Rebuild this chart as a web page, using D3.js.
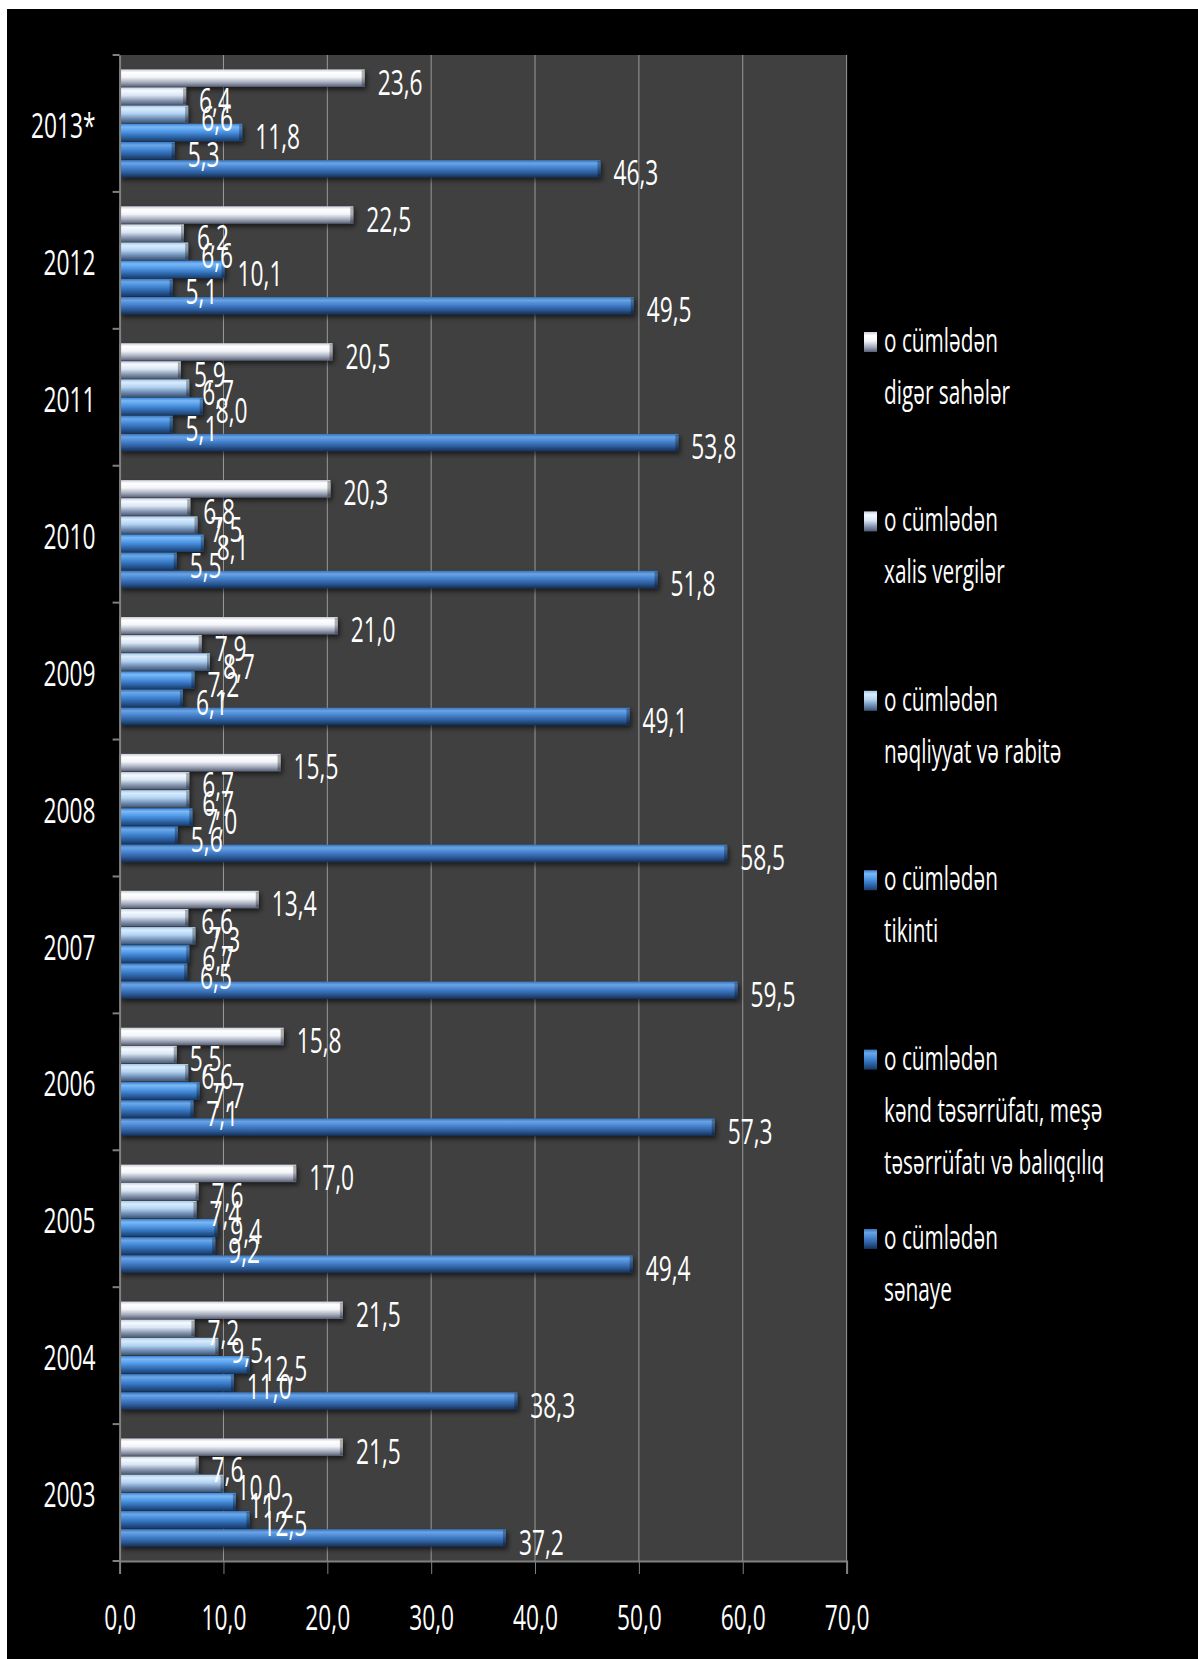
<!DOCTYPE html>
<html>
<head>
<meta charset="utf-8">
<script src="https://cdn.jsdelivr.net/npm/d3@7"></script>
<style>
  body { margin: 0; background: #fff; }
  svg { display: block; }
  text { font-family: "Open Sans", sans-serif; fill: #fff; }
</style>
</head>
<body>
<div class="chart"></div>
<script>
// data (2003 -> 2013*)
var years = ["2003", "2004", "2005", "2006", "2007", "2008", "2009", "2010", "2011", "2012", "2013*"]
var diger     = [21.5, 21.5, 17.0, 15.8, 13.4, 15.5, 21.0, 20.3, 20.5, 22.5, 23.6]
var vergiler  = [7.6, 7.2, 7.6, 5.5, 6.6, 6.7, 7.9, 6.8, 5.9, 6.2, 6.4]
var neqliyyat = [10.0, 9.5, 7.4, 6.6, 7.3, 6.7, 8.7, 7.5, 6.7, 6.6, 6.6]
var tikinti   = [11.2, 12.5, 9.4, 7.7, 6.7, 7.0, 7.2, 8.1, 8.0, 10.1, 11.8]
var kend      = [12.5, 11.0, 9.2, 7.1, 6.5, 5.6, 6.1, 5.5, 5.1, 5.1, 5.3]
var senaye    = [37.2, 38.3, 49.4, 57.3, 59.5, 58.5, 49.1, 51.8, 53.8, 49.5, 46.3]
var xTicks = [0, 10, 20, 30, 40, 50, 60, 70]

var seriesNames = [
  ["o cümlədən", "digər sahələr"],
  ["o cümlədən", "xalis vergilər"],
  ["o cümlədən", "nəqliyyat və rabitə"],
  ["o cümlədən", "tikinti"],
  ["o cümlədən", "kənd təsərrüfatı, meşə", "təsərrüfatı və balıqçılıq"],
  ["o cümlədən", "sənaye"]
]
var seriesValues = [diger, vergiler, neqliyyat, tikinti, kend, senaye]

// gradient stops per series (top -> bottom)
var grads = [
  ["#c9ced8", "#ffffff", "#f2f4f8", "#a4abbc", "#596075"],
  ["#c3d0e2", "#f5faff", "#d9e6f4", "#8796b0", "#4d5a72"],
  ["#a6c9ed", "#d8ecfc", "#b2d2f2", "#6c8ab0", "#3c5372"],
  ["#3d84d6", "#7bb9f6", "#4e96e5", "#2d66aa", "#1a3d6b"],
  ["#3879c5", "#6ba8e9", "#4186d4", "#295c9c", "#173864"],
  ["#3873ba", "#69a4e6", "#4580cc", "#2a5893", "#162e56"]
]

var W = 1198, H = 1659
var SX = 0.65
var fmt = d => d.toFixed(1).replace(".", ",")

var svg = d3.select("div.chart").append("svg").attr("width", W).attr("height", H)

svg.append("rect").attr("x", 7).attr("y", 9).attr("width", W - 7).attr("height", H - 9).attr("fill", "#000")

var defs = svg.append("defs")
grads.forEach((g, i) => {
  var lg = defs.append("linearGradient").attr("id", "g" + i)
    .attr("x1", 0).attr("y1", 0).attr("x2", 0).attr("y2", 1)
  var offs = [0, 0.18, 0.45, 0.75, 1]
  g.forEach((c, j) => lg.append("stop").attr("offset", offs[j]).attr("stop-color", c))
})
var f = defs.append("filter").attr("id", "sh").attr("x", "-5%").attr("y", "-30%").attr("width", "115%").attr("height", "180%")
f.append("feDropShadow").attr("dx", 2).attr("dy", 3).attr("stdDeviation", 2.5).attr("flood-color", "#000").attr("flood-opacity", 0.6)

var pLeft = 119.6, pRight = 846.6, pTop = 55, pBottom = 1561

//Scale
var x = d3.scaleLinear().domain([0, 70]).range([pLeft, pRight])
var y = d3.scaleBand().domain(years.slice().reverse()).range([pTop, pBottom])
  .paddingInner(0.21).paddingOuter(0.105)
var ySub = d3.scaleBand().domain(d3.range(6)).range([0, y.bandwidth()]).paddingInner(0.04)

//plot area
svg.append("rect").attr("x", pLeft).attr("y", pTop).attr("width", pRight - pLeft).attr("height", pBottom - pTop).attr("fill", "#404040")

svg.append("g").selectAll("line").data(xTicks.slice(1)).enter().append("line")
  .attr("x1", d => x(d)).attr("x2", d => x(d)).attr("y1", pTop).attr("y2", pBottom)
  .attr("stroke", "#9a9a9a").attr("stroke-width", 1)

//bars
var rows = []
years.forEach((yr, i) => {
  seriesValues.forEach((vals, s) => rows.push({ year: yr, s: s, v: vals[i] }))
})

var bars = svg.append("g").attr("filter", "url(#sh)")
bars.selectAll("rect").data(rows).enter().append("rect")
  .attr("x", x(0))
  .attr("y", d => y(d.year) + ySub(d.s))
  .attr("width", d => x(d.v) - x(0))
  .attr("height", ySub.bandwidth())
  .attr("fill", d => "url(#g" + d.s + ")")

// end caps
svg.append("g").selectAll("rect").data(rows).enter().append("rect")
  .attr("x", d => x(d.v) - 3)
  .attr("y", d => y(d.year) + ySub(d.s) + 1)
  .attr("width", 3)
  .attr("height", ySub.bandwidth() - 2)
  .attr("fill", "#000").attr("opacity", 0.3)

//labels
svg.append("g").selectAll("text").data(rows).enter().append("text")
  .attr("transform", d => "translate(" + (x(d.v) + 13) + "," + (y(d.year) + ySub(d.s) + ySub.bandwidth() / 2 + 3) + ") scale(" + SX + ",1)")
  .attr("dominant-baseline", "central")
  .attr("font-size", 35)
  .text(d => fmt(d.v))

//Axis_x
var gx = svg.append("g").attr("transform", "translate(0," + pBottom + ")")
  .call(d3.axisBottom(x).tickValues(xTicks).tickFormat(fmt).tickSize(13).tickPadding(0))
gx.select(".domain").attr("stroke", "#808080").attr("stroke-width", 2)
gx.selectAll(".tick line").attr("stroke", "#808080")
gx.selectAll(".tick text").attr("fill", "#fff").attr("font-size", 35)
  .attr("y", 0).attr("dy", 0)
  .attr("transform", "translate(0,69) scale(" + SX + ",1)")
  .attr("font-family", "Open Sans")

//Axis_y
var gy = svg.append("g").attr("transform", "translate(" + pLeft + ",0)")
  .call(d3.axisLeft(y).tickSize(0).tickPadding(0))
gy.select(".domain").attr("stroke", "#808080").attr("stroke-width", 2)
gy.selectAll(".tick text").attr("fill", "#fff").attr("font-size", 35)
  .attr("x", 0).attr("dy", 0).attr("dominant-baseline", "central")
  .attr("transform", "translate(-24,1) scale(" + SX + ",1)")
  .attr("font-family", "Open Sans")

// category tick marks between groups
var bounds = d3.range(years.length + 1).map(i => pTop + i * y.step())
svg.append("g").selectAll("line").data(bounds).enter().append("line")
  .attr("x1", pLeft - 7).attr("x2", pLeft).attr("y1", d => d).attr("y2", d => d)
  .attr("stroke", "#808080").attr("stroke-width", 2)

//legend
var lg = svg.append("g")
seriesNames.forEach((lines, i) => {
  var by = 352 + i * 179.4
  lg.append("rect").attr("x", 864).attr("y", by - 20).attr("width", 13).attr("height", 20)
    .attr("fill", "url(#g" + i + ")")
  lines.forEach((t, k) => {
    lg.append("text")
      .attr("transform", "translate(884," + (by + k * 52) + ") scale(" + SX + ",1)")
      .attr("font-size", 32)
      .text(t)
  })
})
</script>
</body>
</html>
